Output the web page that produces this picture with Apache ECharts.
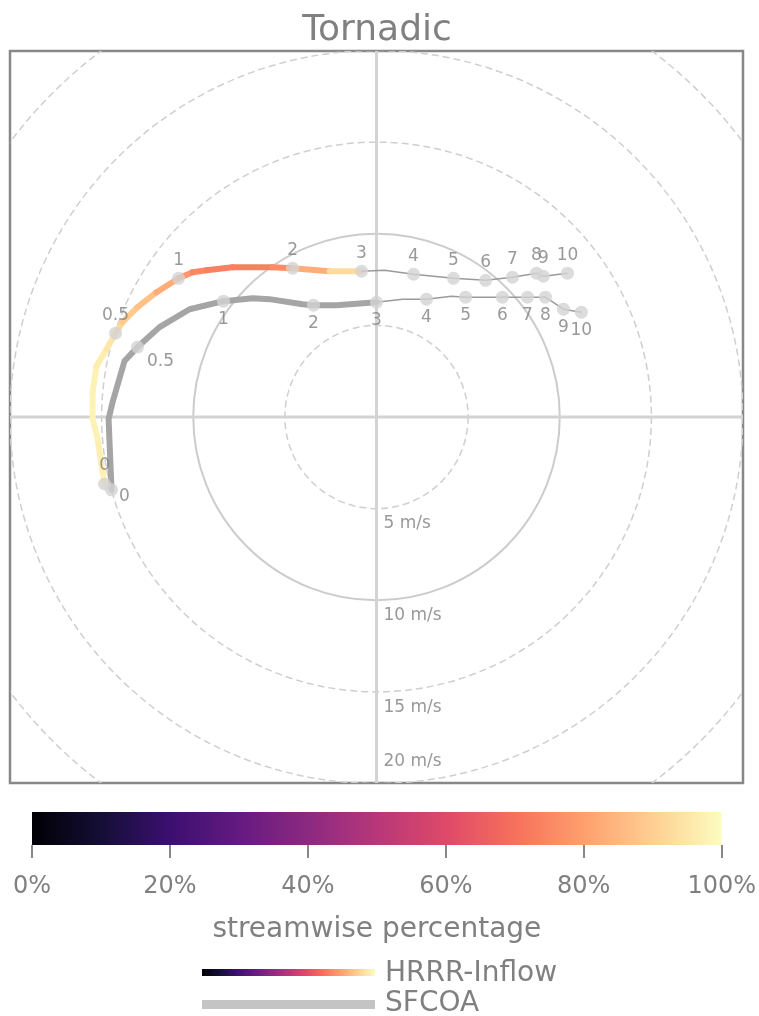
<!DOCTYPE html>
<html>
<head>
<meta charset="utf-8">
<script src="https://cdn.jsdelivr.net/npm/echarts@6/dist/echarts.min.js"></script>
<style>
  html, body { margin: 0; padding: 0; background: #fff; }
  #main { width: 759px; height: 1016px; }
</style>
</head>
<body>
<div id="main"></div>
<script>
// hodograph points (u, v in m/s), label = height in km
const hrrrU = [-14.84, -14.95, -15.22, -15.49, -15.49, -15.28, -14.73, -14.24, -13.86, -13.04, -12.00, -10.80, -10.04, -9.27, -7.86, -5.67, -4.58, -2.56, -0.82, 0.44, 2.02, 4.20, 5.95, 7.42, 8.73, 9.11, 10.42]
const hrrrV = [-3.66, -3.00, -1.20, -0.11, 1.36, 2.78, 3.71, 4.58, 5.18, 6.00, 6.82, 7.58, 7.91, 8.02, 8.18, 8.18, 8.13, 7.97, 7.97, 8.02, 7.80, 7.58, 7.47, 7.64, 7.86, 7.69, 7.86]
const hrrrLbl = ['0', '', '', '', '', '', '', '0.5', '', '', '', '1', '', '', '', '', '2', '', '3', '', '4', '5', '6', '7', '8', '9', '10']
// streamwise percentage, 0-3 km only
const hrrrPct = [98, 97, 97, 98, 98, 97, 96, 94, 90, 88, 86, 80, 76, 74, 73, 74, 78, 88, 97]

const sfcU = [-14.46, -14.62, -14.40, -13.75, -13.04, -11.84, -10.20, -8.35, -6.76, -5.84, -4.04, -3.44, -2.18, 0.00, 1.42, 2.73, 4.09, 4.86, 6.87, 8.24, 9.22, 10.20, 11.18]
const sfcV = [-3.98, -0.11, 0.82, 3.06, 3.82, 4.91, 5.89, 6.33, 6.49, 6.44, 6.16, 6.11, 6.11, 6.27, 6.44, 6.44, 6.60, 6.55, 6.55, 6.55, 6.55, 5.89, 5.73]
const sfcLbl = ['0', '', '', '', '0.5', '', '', '1', '', '', '', '2', '', '3', '', '4', '', '5', '6', '7', '8', '9', '10']

const ringSpeeds = [5, 10, 15, 20, 25]
const ringLabels = ['5 m/s', '10 m/s', '15 m/s', '20 m/s']
const ringLabelV = [-5.84, -10.86, -15.88, -18.82]

const pctTicks = [0, 20, 40, 60, 80, 100]

const MAGMA = ['#000004', '#140e36', '#3b0f70', '#641a80', '#8c2981', '#b73779',
  '#de4968', '#f7705c', '#fe9f6d', '#fecf92', '#fcfdbf']
const GRAY_TXT = '#808080'
const FONT = 'DejaVu Sans'

const magmaGradient = () => new echarts.graphic.LinearGradient(0, 0, 1, 0,
  MAGMA.map((c, i) => ({ offset: i / (MAGMA.length - 1), color: c })))

// colored 0-3 km segments
const hrrrSeg = []
for (let i = 0; i < hrrrPct.length - 1; i++) {
  hrrrSeg.push([hrrrU[i], hrrrV[i], hrrrU[i + 1], hrrrV[i + 1], (hrrrPct[i] + hrrrPct[i + 1]) / 2])
}
const i3h = hrrrLbl.indexOf('3')
const i3s = sfcLbl.indexOf('3')
const pairs = (us, vs, a, b) => us.slice(a, b).map((u, k) => [u, vs[a + k]])

const hrrrMarks = hrrrU.map((u, i) => ({ value: [u, hrrrV[i]], name: hrrrLbl[i] })).filter(d => d.name)
const sfcMarks = sfcU.map((u, i) => {
  const d = { value: [u, sfcV[i]], name: sfcLbl[i] }
  if (d.name === '0') d.label = { position: 'right', distance: 1, offset: [0, 7] }
  if (d.name === '0.5') d.label = { position: 'right', distance: 3, offset: [0, 14] }
  return d
}).filter(d => d.name)

const clipRect = params => ({
  type: 'rect',
  shape: { x: params.coordSys.x, y: params.coordSys.y, width: params.coordSys.width, height: params.coordSys.height },
})

const chart = echarts.init(document.getElementById('main'), null, { renderer: 'canvas' })

chart.setOption({
  animation: false,
  textStyle: { fontFamily: FONT },
  grid: [
    { left: 10, right: 16, top: 51, bottom: 233, show: true, borderColor: '#888', borderWidth: 2.5, backgroundColor: '#fff' },
    { left: 32, right: 37, top: 812, height: 33 },
  ],
  xAxis: [
    { type: 'value', gridIndex: 0, min: -20, max: 20, show: false },
    {
      type: 'value', gridIndex: 1, min: 0, max: 100, interval: 20,
      axisLine: { show: false },
      axisTick: { show: true, length: 13, lineStyle: { color: '#888', width: 2 } },
      splitLine: { show: false },
      axisLabel: { formatter: '{value}%', color: GRAY_TXT, fontSize: 24, margin: 30, showMinLabel: true, showMaxLabel: true },
      name: 'streamwise percentage', nameLocation: 'middle', nameGap: 71,
      nameTextStyle: { color: GRAY_TXT, fontSize: 28 },
    },
  ],
  yAxis: [
    { type: 'value', gridIndex: 0, min: -20, max: 20, show: false },
    { type: 'value', gridIndex: 1, min: 0, max: 1, show: false },
  ],
  visualMap: [{
    type: 'continuous', show: false, min: 0, max: 100, dimension: 4, seriesIndex: 2,
    inRange: { color: MAGMA },
  }],
  series: [
    {
      // speed rings
      type: 'custom', name: 'rings', silent: true, z: 1,
      data: ringSpeeds.map(r => [r, 0]),
      renderItem: (params, api) => {
        const r = api.value(0)
        const c = api.coord([0, 0])
        const rp = api.size([r, 0])[0]
        return {
          type: 'circle',
          shape: { cx: c[0], cy: c[1], r: rp },
          style: { fill: 'none', stroke: r === 10 ? '#cccccc' : '#cfcfcf', lineWidth: r === 10 ? 2 : 1.5, lineDash: r === 10 ? null : [7, 4] },
          clipPath: clipRect(params),
        }
      },
    },
    {
      // u = 0 and v = 0 lines
      type: 'custom', name: 'cross', silent: true, z: 1,
      data: [[0, 0]],
      renderItem: (params, api) => {
        const c = api.coord([api.value(0), api.value(1)])
        const cs = params.coordSys
        const st = { stroke: '#d3d3d3', lineWidth: 3 }
        return {
          type: 'group',
          children: [
            { type: 'line', shape: { x1: c[0], y1: cs.y, x2: c[0], y2: cs.y + cs.height }, style: st },
            { type: 'line', shape: { x1: cs.x, y1: c[1], x2: cs.x + cs.width, y2: c[1] }, style: st },
          ],
        }
      },
    },
    {
      type: 'custom', name: 'HRRR-Inflow', z: 3,
      data: hrrrSeg,
      encode: { x: [0, 2], y: [1, 3] },
      renderItem: (params, api) => {
        const p1 = api.coord([api.value(0), api.value(1)])
        const p2 = api.coord([api.value(2), api.value(3)])
        return {
          type: 'line',
          shape: { x1: p1[0], y1: p1[1], x2: p2[0], y2: p2[1] },
          style: { stroke: api.visual('color'), lineWidth: 6, lineCap: 'round' },
        }
      },
    },
    {
      type: 'line', name: 'HRRR upper', z: 3, symbol: 'none',
      data: pairs(hrrrU, hrrrV, i3h, hrrrU.length),
      lineStyle: { color: '#9a9a9a', width: 1.5 },
    },
    {
      type: 'line', name: 'SFCOA', z: 3, symbol: 'none',
      data: pairs(sfcU, sfcV, 0, i3s + 1),
      lineStyle: { color: '#a5a5a5', width: 6, cap: 'round', join: 'round' },
    },
    {
      type: 'line', name: 'SFCOA upper', z: 3, symbol: 'none',
      data: pairs(sfcU, sfcV, i3s, sfcU.length),
      lineStyle: { color: '#9a9a9a', width: 1.5 },
    },
    {
      type: 'scatter', name: 'hrrr pts', z: 4, symbolSize: 13,
      itemStyle: { color: '#d3d3d3' },
      label: { show: true, position: 'top', distance: 3, formatter: '{b}', color: GRAY_TXT, fontSize: 17 },
      data: hrrrMarks,
    },
    {
      type: 'scatter', name: 'sfc pts', z: 4, symbolSize: 13,
      itemStyle: { color: '#d3d3d3' },
      label: { show: true, position: 'bottom', distance: 3, formatter: '{b}', color: GRAY_TXT, fontSize: 17 },
      data: sfcMarks,
    },
    {
      type: 'scatter', name: 'ring labels', z: 4, symbolSize: 0, silent: true,
      label: { show: true, position: 'right', distance: 7, formatter: '{b}', color: GRAY_TXT, fontSize: 17 },
      data: ringLabels.map((t, i) => ({ value: [0, ringLabelV[i]], name: t })),
    },
    {
      // colorbar
      type: 'custom', name: 'colorbar', xAxisIndex: 1, yAxisIndex: 1, silent: true,
      data: [[pctTicks[0], 1, pctTicks[pctTicks.length - 1], 0]],
      renderItem: (params, api) => {
        const a = api.coord([api.value(0), api.value(1)])
        const b = api.coord([api.value(2), api.value(3)])
        return {
          type: 'rect',
          shape: { x: a[0], y: a[1], width: b[0] - a[0], height: b[1] - a[1] },
          style: { fill: magmaGradient() },
        }
      },
    },
  ],
  graphic: [
    { type: 'text', x: 377, y: 31, style: { text: 'Tornadic', fontSize: 36, fontFamily: FONT, fill: GRAY_TXT, align: 'center', verticalAlign: 'middle' } },
    { type: 'rect', shape: { x: 202, y: 969, width: 173, height: 7 }, style: { fill: magmaGradient() } },
    { type: 'text', x: 385, y: 974, style: { text: 'HRRR-Inflow', fontSize: 28, fontFamily: FONT, fill: GRAY_TXT, align: 'left', verticalAlign: 'middle' } },
    { type: 'rect', shape: { x: 202, y: 1000, width: 173, height: 9 }, style: { fill: '#c4c4c4' } },
    { type: 'text', x: 385, y: 1004, style: { text: 'SFCOA', fontSize: 28, fontFamily: FONT, fill: GRAY_TXT, align: 'left', verticalAlign: 'middle' } },
  ],
})
</script>
</body>
</html>
